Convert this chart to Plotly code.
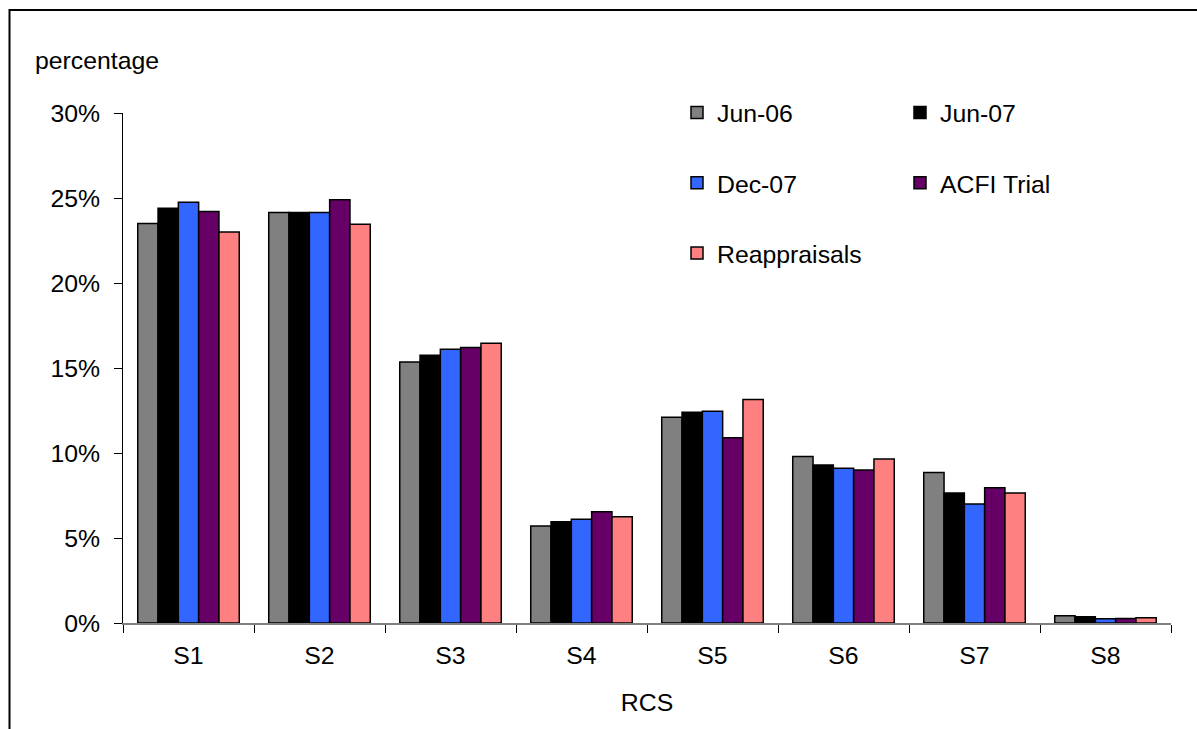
import plotly.graph_objects as go

categories = ["S1", "S2", "S3", "S4", "S5", "S6", "S7", "S8"]
jun06 = [23.5, 24.15, 15.35, 5.7, 12.1, 9.8, 8.85, 0.43]
jun07 = [24.4, 24.15, 15.75, 5.95, 12.4, 9.3, 7.65, 0.37]
dec07 = [24.75, 24.15, 16.1, 6.1, 12.45, 9.1, 7.0, 0.25]
acfi = [24.2, 24.9, 16.2, 6.55, 10.9, 9.0, 7.95, 0.27]
reapp = [23.0, 23.45, 16.45, 6.25, 13.15, 9.65, 7.65, 0.31]

series = [
    ("Jun-06", jun06, "#808080", "legend"),
    ("Jun-07", jun07, "#000000", "legend2"),
    ("Dec-07", dec07, "#3366FF", "legend"),
    ("ACFI Trial", acfi, "#660066", "legend2"),
    ("Reappraisals", reapp, "#FF8080", "legend"),
]

FONT = "Liberation Sans, Arial, sans-serif"
FS = 24.8

fig = go.Figure()
for name, vals, color, lg in series:
    fig.add_trace(go.Bar(
        x=categories, y=vals, name=name, legend=lg, legendgroup=name,
        marker=dict(color=color, line=dict(color="#000000", width=1.5)),
    ))

W, H = 1197, 729
L, R, T, B = 123, 26, 113, 106
pw, ph = W - L - R, H - T - B

def px(x):
    return (x - L) / pw

def py(y):
    return (H - B - y) / ph

legend_common = dict(
    font=dict(family=FONT, size=FS, color="#000000"),
    bgcolor="rgba(0,0,0,0)",
    tracegroupgap=35,
    xanchor="left", yanchor="top",
    itemclick=False, itemdoubleclick=False,
)

fig.update_layout(
    width=W, height=H,
    margin=dict(l=L, r=R, t=T, b=B),
    paper_bgcolor="white", plot_bgcolor="white",
    font=dict(family=FONT, size=FS, color="#000000"),
    barmode="group", bargap=0.225, bargroupgap=0,
    showlegend=True,
    legend=dict(x=px(677), y=py(90), **legend_common),
    legend2=dict(x=px(900), y=py(90), **legend_common),
    xaxis=dict(
        type="category", tickson="boundaries",
        showline=True, linecolor="#808080", linewidth=2,
        ticks="outside", ticklen=8, tickcolor="#000000", tickwidth=1,
        showgrid=False, zeroline=False,
        tickfont=dict(family=FONT, size=FS, color="#000000"),
        ticklabelstandoff=9,
        title=dict(text="RCS", font=dict(family=FONT, size=FS, color="#000000"), standoff=26),
    ),
    yaxis=dict(
        range=[0, 30], dtick=5, ticksuffix="%",
        showline=True, linecolor="#000000", linewidth=1,
        ticks="outside", ticklen=8, tickcolor="#000000", tickwidth=1,
        showgrid=False, zeroline=False,
        tickfont=dict(family=FONT, size=FS, color="#000000"),
        ticklabelstandoff=9,
    ),
    annotations=[dict(
        text="percentage", xref="paper", yref="paper",
        x=px(33), y=py(61), xanchor="left", yanchor="middle",
        showarrow=False, font=dict(family=FONT, size=FS, color="#000000"),
    )],
    shapes=[dict(
        type="rect", xref="paper", yref="paper",
        x0=px(9.5), x1=px(1215), y0=py(760), y1=py(10),
        line=dict(color="#000000", width=2), fillcolor="rgba(0,0,0,0)", layer="below",
    )],
)

fig.write_html("out.html")
